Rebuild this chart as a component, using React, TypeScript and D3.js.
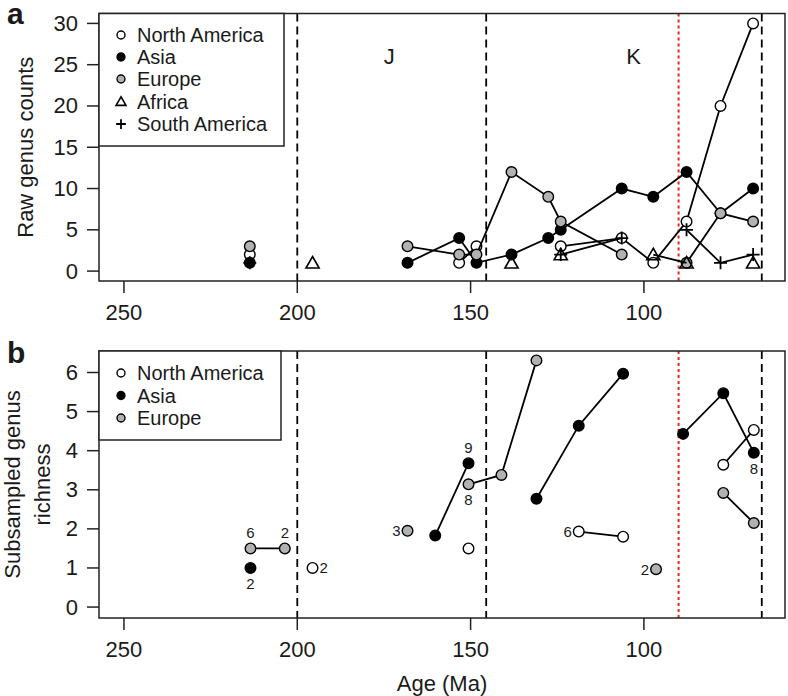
import React from "react";
import * as d3 from "d3";

// ---------- Data ----------
// Panel a: raw genus counts per time bin (age in Ma)
const agesA = [213.7, 195.6, 168.2, 153.3, 148.3, 138.2, 127.6, 124.0, 106.4, 97.3, 87.7, 77.9, 68.5];
const naA = [2, null, null, 1, 3, null, null, 3, 4, 1, 6, 20, 30];
const asiaA = [1, null, 1, 4, 1, 2, 4, 5, 10, 9, 12, 7, 10];
const europeA = [3, null, 3, 2, 2, 12, 9, 6, 2, null, 1, 7, 6];
const africaA = [null, 1, null, null, null, 1, null, 2, null, 2, 1, null, 1];
const southAmA = [1, null, null, null, null, null, null, 2, 4, null, 5, 1, 2];

// Panel b: subsampled genus richness
const agesB = [213.5, 203.6, 195.6, 168.2, 160.2, 150.6, 141.1, 131.0, 118.8, 106.0, 96.5, 88.7, 77.1, 68.3];
const naB = [null, null, 1.0, null, null, 1.5, null, null, 1.93, 1.8, null, null, 3.64, 4.53];
const asiaB = [1.0, null, null, null, 1.83, 3.68, null, 2.77, 4.64, 5.97, null, 4.43, 5.47, 3.95];
const europeB = [1.5, 1.5, null, 1.95, null, 3.14, 3.38, 6.31, null, null, 0.97, null, 2.92, 2.15];

// Sample-size annotations in panel b: [series, bin index, text, side]
const annotB: [string, number, string, string][] = [
  ["europe", 0, "6", "above"],
  ["europe", 1, "2", "above"],
  ["asia", 0, "2", "below"],
  ["na", 2, "2", "right"],
  ["europe", 3, "3", "left"],
  ["asia", 5, "9", "above"],
  ["europe", 5, "8", "below"],
  ["na", 8, "6", "left"],
  ["europe", 10, "2", "left"],
  ["asia", 13, "8", "below"],
];

const boundaries = [200, 145.5, 66];
const redLine = 90;
const xTicks = [250, 200, 150, 100];
const yTicksA = [0, 5, 10, 15, 20, 25, 30];
const yTicksB = [0, 1, 2, 3, 4, 5, 6];
const periodLabels: [string, number][] = [["J", 173.5], ["K", 103]];
const legendA = ["North America", "Asia", "Europe", "Africa", "South America"];
const legendB = ["North America", "Asia", "Europe"];

// ---------- Layout ----------
const W = 788, H = 696;
const L = 99, R = 785;
const A_TOP = 13.5, A_BOT = 281;
const B_TOP = 351, B_BOT = 618;
const FONT = "'Liberation Sans', Arial, Helvetica, sans-serif";
const GRAY = "#b2b2b2";
const TXT = "#1a1a1a";

const x = d3.scaleLinear().domain([257.2, 59.3]).range([L, R]);
const ya = d3.scaleLinear().domain([-1.2, 31.2]).range([A_BOT, A_TOP]);
const yb = d3.scaleLinear().domain([-0.28, 6.55]).range([B_BOT, B_TOP]);

type Kind = "open" | "filled" | "gray" | "tri" | "plus";

function Marker({ kind, cx, cy, s = 1 }: { kind: Kind; cx: number; cy: number; s?: number }) {
  if (kind === "open" || kind === "filled" || kind === "gray") {
    const fill = kind === "open" ? "#fff" : kind === "filled" ? "#000" : GRAY;
    return <circle cx={cx} cy={cy} r={5.3 * s} fill={fill} stroke="#000" strokeWidth={1.4} />;
  }
  if (kind === "tri") {
    const w = 6.6 * s, h = 11.5 * s;
    const p = `M${cx},${cy - h * 0.55}L${cx + w},${cy + h * 0.45}L${cx - w},${cy + h * 0.45}Z`;
    return <path d={p} fill="none" stroke="#000" strokeWidth={1.6} />;
  }
  const r = 6.5 * s;
  return (
    <path d={`M${cx - r},${cy}H${cx + r}M${cx},${cy - r}V${cy + r}`} stroke="#000" strokeWidth={1.8} fill="none" />
  );
}

function Series({ ages, vals, y, kind }: { ages: number[]; vals: (number | null)[]; y: d3.ScaleLinear<number, number>; kind: Kind }) {
  const pts = ages.map((a, i) => [a, vals[i]] as [number, number | null]);
  const line = d3
    .line<[number, number | null]>()
    .defined((d) => d[1] !== null)
    .x((d) => x(d[0]))
    .y((d) => y(d[1] as number));
  return (
    <g>
      <path d={line(pts) || ""} fill="none" stroke="#000" strokeWidth={1.8} />
      {pts
        .filter((d) => d[1] !== null)
        .map((d, i) => (
          <Marker key={i} kind={kind} cx={x(d[0])} cy={y(d[1] as number)} />
        ))}
    </g>
  );
}

function Frame({ top, bot, y, ticks }: { top: number; bot: number; y: d3.ScaleLinear<number, number>; ticks: number[] }) {
  return (
    <g>
      {boundaries.map((b) => (
        <line key={b} x1={x(b)} x2={x(b)} y1={top} y2={bot} stroke="#000" strokeWidth={1.8} strokeDasharray="8,5" />
      ))}
      <line x1={x(redLine)} x2={x(redLine)} y1={top} y2={bot} stroke="#e3261f" strokeWidth={2} strokeDasharray="3,3" />
      <rect x={L} y={top} width={R - L} height={bot - top} fill="none" stroke="#222" strokeWidth={1.5} />
      {ticks.map((t) => (
        <g key={t}>
          <line x1={L - 12} x2={L} y1={y(t)} y2={y(t)} stroke="#222" strokeWidth={1.5} />
          <text x={L - 21} y={y(t) + 7.5} textAnchor="end" fontSize={22} fill={TXT} fontFamily={FONT}>
            {t}
          </text>
        </g>
      ))}
      {xTicks.map((t) => (
        <g key={t}>
          <line x1={x(t)} x2={x(t)} y1={bot} y2={bot + 12} stroke="#222" strokeWidth={1.5} />
          <text x={x(t)} y={bot + 39} textAnchor="middle" fontSize={22} fill={TXT} fontFamily={FONT}>
            {t}
          </text>
        </g>
      ))}
    </g>
  );
}

function Legend({ top, bottom, right, names, kinds, rowY }: { top: number; bottom: number; right: number; names: string[]; kinds: Kind[]; rowY: number[] }) {
  return (
    <g>
      <rect x={L} y={top} width={right - L} height={bottom - top} fill="#fff" stroke="#222" strokeWidth={1.5} />
      {names.map((n, i) => (
        <g key={n}>
          <Marker kind={kinds[i]} cx={121} cy={rowY[i]} s={0.75} />
          <text x={137} y={rowY[i] + 7} fontSize={20} fill={TXT} fontFamily={FONT}>
            {n}
          </text>
        </g>
      ))}
    </g>
  );
}

export default function App() {
  const seriesB: Record<string, (number | null)[]> = { na: naB, asia: asiaB, europe: europeB };
  return (
    <svg width={W} height={H} style={{ position: "absolute", left: 0, top: 0, background: "#fff" }}>
      {/* Panel a */}
      <Frame top={A_TOP} bot={A_BOT} y={ya} ticks={yTicksA} />
      {periodLabels.map(([t, a]) => (
        <text key={t} x={x(a)} y={64} textAnchor="middle" fontSize={22} fill={TXT} fontFamily={FONT}>
          {t}
        </text>
      ))}
      <Series ages={agesA} vals={naA} y={ya} kind="open" />
      <Series ages={agesA} vals={asiaA} y={ya} kind="filled" />
      <Series ages={agesA} vals={europeA} y={ya} kind="gray" />
      <Series ages={agesA} vals={africaA} y={ya} kind="tri" />
      <Series ages={agesA} vals={southAmA} y={ya} kind="plus" />
      <Legend top={A_TOP} bottom={146} right={284} names={legendA} kinds={["open", "filled", "gray", "tri", "plus"]} rowY={[35, 57, 79, 101.5, 124]} />
      <text x={7} y={24} fontSize={30} fontWeight="bold" fill={TXT} fontFamily={FONT}>a</text>
      <text transform={`translate(33,${(A_TOP + A_BOT) / 2}) rotate(-90)`} textAnchor="middle" fontSize={22} fill={TXT} fontFamily={FONT}>
        Raw genus counts
      </text>

      {/* Panel b */}
      <Frame top={B_TOP} bot={B_BOT} y={yb} ticks={yTicksB} />
      <Series ages={agesB} vals={naB} y={yb} kind="open" />
      <Series ages={agesB} vals={asiaB} y={yb} kind="filled" />
      <Series ages={agesB} vals={europeB} y={yb} kind="gray" />
      {annotB.map(([s, i, t, side], k) => {
        const cx = x(agesB[i]);
        const cy = yb(seriesB[s][i] as number);
        let tx = cx, ty = cy, anchor = "middle";
        if (side === "above") ty = cy - 10;
        if (side === "below") ty = cy + 21;
        if (side === "left") { tx = cx - 7; ty = cy + 5.5; anchor = "end"; }
        if (side === "right") { tx = cx + 7; ty = cy + 5.5; anchor = "start"; }
        return (
          <text key={k} x={tx} y={ty} textAnchor={anchor} fontSize={15} fill={TXT} fontFamily={FONT}>
            {t}
          </text>
        );
      })}
      <Legend top={B_TOP} bottom={440} right={281} names={legendB} kinds={["open", "filled", "gray"]} rowY={[373, 395.5, 418]} />
      <text x={7} y={363} fontSize={30} fontWeight="bold" fill={TXT} fontFamily={FONT}>b</text>
      <text transform={`translate(20,${(B_TOP + B_BOT) / 2}) rotate(-90)`} textAnchor="middle" fontSize={22} fill={TXT} fontFamily={FONT}>
        Subsampled genus
      </text>
      <text transform={`translate(50,${(B_TOP + B_BOT) / 2}) rotate(-90)`} textAnchor="middle" fontSize={22} fill={TXT} fontFamily={FONT}>
        richness
      </text>
      <text x={(L + R) / 2} y={691} textAnchor="middle" fontSize={22} fill={TXT} fontFamily={FONT}>
        Age (Ma)
      </text>
    </svg>
  );
}
